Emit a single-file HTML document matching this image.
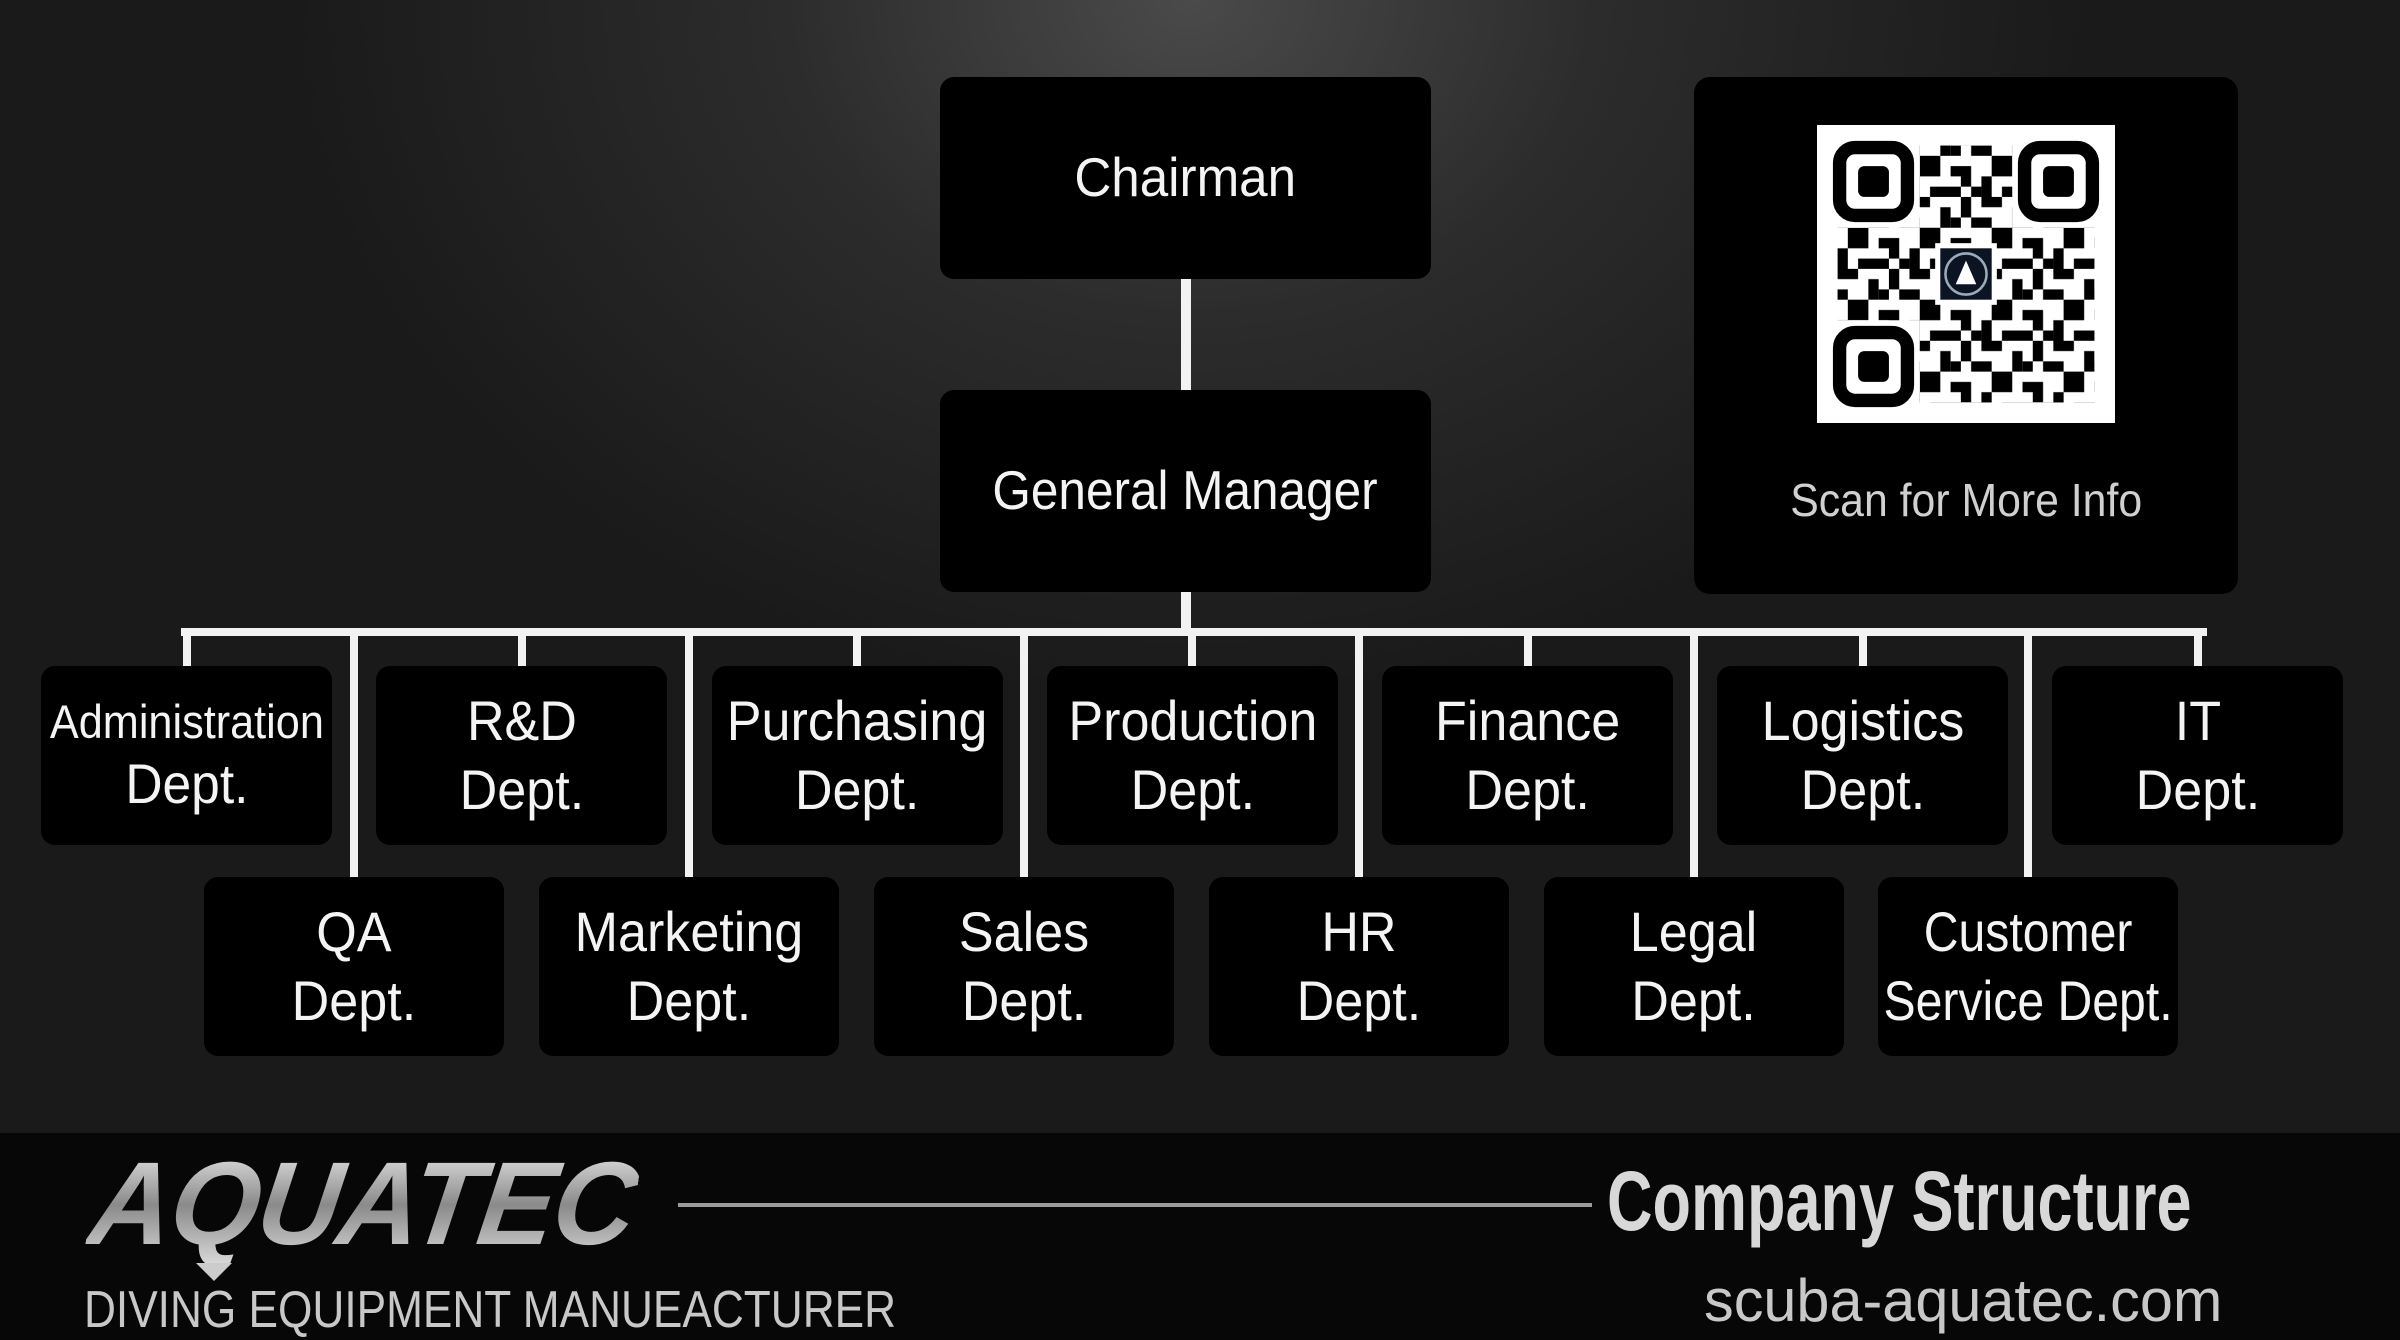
<!DOCTYPE html>
<html><head><meta charset="utf-8"><style>
*{margin:0;padding:0;box-sizing:border-box}
body{width:2400px;height:1340px;overflow:hidden;position:relative;font-family:"Liberation Sans",sans-serif;
background:radial-gradient(ellipse 900px 700px at 1190px 0px,#4a4a4a 0%,#2c2c2c 45%,#1a1a1a 100%),#181818;}
.box{position:absolute;background:#000;border-radius:14px;display:flex;align-items:center;justify-content:center;text-align:center;color:#f4f4f4;}
.box span{display:inline-block;transform:scaleX(.93);line-height:1.22;white-space:nowrap}
.t{font-size:56px}
.b{font-size:56px}
.line{position:absolute;background:#f2f2f2}
.footer{position:absolute;left:0;top:1133px;width:2400px;height:207px;background:#070707}
</style></head><body>
<div class="box" style="left:940px;top:77px;width:491px;height:202px;font-size:55px"><span>Chairman</span></div>
<div class="line" style="left:1181px;top:279px;width:10px;height:111px"></div>
<div class="box" style="left:940px;top:390px;width:491px;height:202px;font-size:55px"><span style="transform:scaleX(.9)">General Manager</span></div>
<div class="line" style="left:1181px;top:592px;width:10px;height:40px"></div>
<div class="box" style="left:1694px;top:77px;width:544px;height:517px;border-radius:16px;display:block">
<svg style="position:absolute;left:123px;top:48px" width="298" height="298" viewBox="0 0 29 29">
<defs><pattern id="p" width="7" height="7" patternUnits="userSpaceOnUse">
<rect width="7" height="7" fill="#fff"/>
<rect x="0" y="0" width="1" height="2" fill="#000"/><rect x="2" y="0" width="2" height="1" fill="#000"/><rect x="5" y="1" width="1" height="2" fill="#000"/>
<rect x="1" y="2" width="2" height="1" fill="#000"/><rect x="3" y="3" width="2" height="2" fill="#000"/><rect x="0" y="4" width="1" height="2" fill="#000"/>
<rect x="6" y="4" width="1" height="1" fill="#000"/><rect x="2" y="5" width="1" height="2" fill="#000"/><rect x="4" y="6" width="3" height="1" fill="#000"/>
<rect x="6" y="2" width="1" height="1" fill="#000"/><rect x="1" y="6" width="1" height="1" fill="#000"/>
</pattern></defs>
<rect width="29" height="29" fill="#fff"/>
<rect x="2" y="2" width="25" height="25" fill="url(#p)"/>
<g fill="#fff"><rect x="1" y="1" width="9" height="9"/><rect x="19" y="1" width="9" height="9"/><rect x="1" y="19" width="9" height="9"/></g>
<g fill="none" stroke="#000" stroke-width="1.3">
<rect x="2.2" y="2.2" width="6.6" height="6.6" rx="1.5"/><rect x="20.2" y="2.2" width="6.6" height="6.6" rx="1.5"/><rect x="2.2" y="20.2" width="6.6" height="6.6" rx="1.5"/></g>
<g fill="#000"><rect x="4" y="4" width="3" height="3" rx=".6"/><rect x="22" y="4" width="3" height="3" rx=".6"/><rect x="4" y="22" width="3" height="3" rx=".6"/></g>
<rect x="11.5" y="11.5" width="6" height="6" fill="#fff"/>
<rect x="12" y="12" width="5" height="5" fill="#0c1424"/>
<circle cx="14.5" cy="14.5" r="2" fill="none" stroke="#9ab" stroke-width=".25"/>
<path d="M13.5 15.5 L14.5 13.2 L15.5 15.5 Z" fill="#fff"/>
</svg>
<div style="position:absolute;left:0;width:544px;top:395px;text-align:center;font-size:46px;color:#d0d0d0"><span style="display:inline-block;transform:scaleX(.93)">Scan for More Info</span></div>
</div>
<div class="line" style="left:181px;top:628px;width:2026px;height:8px"></div>
<div class="line" style="left:183px;top:628px;width:8px;height:38px"></div>
<div class="line" style="left:518px;top:628px;width:8px;height:38px"></div>
<div class="line" style="left:853px;top:628px;width:8px;height:38px"></div>
<div class="line" style="left:1188px;top:628px;width:8px;height:38px"></div>
<div class="line" style="left:1524px;top:628px;width:8px;height:38px"></div>
<div class="line" style="left:1859px;top:628px;width:8px;height:38px"></div>
<div class="line" style="left:2194px;top:628px;width:8px;height:38px"></div>
<div class="line" style="left:350px;top:628px;width:8px;height:249px"></div>
<div class="line" style="left:685px;top:628px;width:8px;height:249px"></div>
<div class="line" style="left:1020px;top:628px;width:8px;height:249px"></div>
<div class="line" style="left:1355px;top:628px;width:8px;height:249px"></div>
<div class="line" style="left:1690px;top:628px;width:8px;height:249px"></div>
<div class="line" style="left:2024px;top:628px;width:8px;height:249px"></div>
<div class="box t" style="left:41px;top:666px;width:291px;height:179px"><span style="font-size:47px;transform:scaleX(.92)">Administration<br><span style="font-size:56px;transform:scaleX(1.0)">Dept.</span></span></div>
<div class="box t" style="left:376px;top:666px;width:291px;height:179px"><span>R&amp;D<br>Dept.</span></div>
<div class="box t" style="left:712px;top:666px;width:291px;height:179px"><span>Purchasing<br>Dept.</span></div>
<div class="box t" style="left:1047px;top:666px;width:291px;height:179px"><span>Production<br>Dept.</span></div>
<div class="box t" style="left:1382px;top:666px;width:291px;height:179px"><span>Finance<br>Dept.</span></div>
<div class="box t" style="left:1717px;top:666px;width:291px;height:179px"><span>Logistics<br>Dept.</span></div>
<div class="box t" style="left:2052px;top:666px;width:291px;height:179px"><span>IT<br>Dept.</span></div>
<div class="box b" style="left:204px;top:877px;width:300px;height:179px"><span>QA<br>Dept.</span></div>
<div class="box b" style="left:539px;top:877px;width:300px;height:179px"><span>Marketing<br>Dept.</span></div>
<div class="box b" style="left:874px;top:877px;width:300px;height:179px"><span>Sales<br>Dept.</span></div>
<div class="box b" style="left:1209px;top:877px;width:300px;height:179px"><span>HR<br>Dept.</span></div>
<div class="box b" style="left:1544px;top:877px;width:300px;height:179px"><span>Legal<br>Dept.</span></div>
<div class="box b" style="left:1878px;top:877px;width:300px;height:179px"><span style="transform:scaleX(.86)">Customer<br>Service Dept.</span></div>
<div class="footer"></div>
<div style="position:absolute;left:100px;top:1140px;font-size:118px;font-weight:bold;font-style:italic;letter-spacing:-2px;color:#c8c8c8;background:linear-gradient(#f0f0f0,#8a8a8a 50%,#e0e0e0);-webkit-background-clip:text;background-clip:text;-webkit-text-fill-color:transparent;transform:skewX(-8deg) scaleX(.97);transform-origin:left top;line-height:1.1">AQUATEC</div>
<div style="position:absolute;left:196px;top:1263px;width:0;height:0;border-left:18px solid transparent;border-right:18px solid transparent;border-top:18px solid #ccc"></div>
<div style="position:absolute;left:84px;top:1282px;font-size:52px;color:#c8c8c8;white-space:nowrap;transform:scaleX(.85);transform-origin:left top;line-height:1.1">DIVING EQUIPMENT MANUEACTURER</div>
<div style="position:absolute;left:678px;top:1203px;width:914px;height:4px;background:#9a9a9a"></div>
<div style="position:absolute;left:1607px;top:1155px;font-size:84px;font-weight:bold;color:#d8d8d8;white-space:nowrap;transform:scaleX(.75);transform-origin:left top;line-height:1.1">Company Structure</div>
<div style="position:absolute;left:1704px;top:1268px;font-size:60px;color:#c8c8c8;white-space:nowrap;transform:scaleX(.99);transform-origin:left top;line-height:1.1">scuba-aquatec.com</div>
</body></html>
